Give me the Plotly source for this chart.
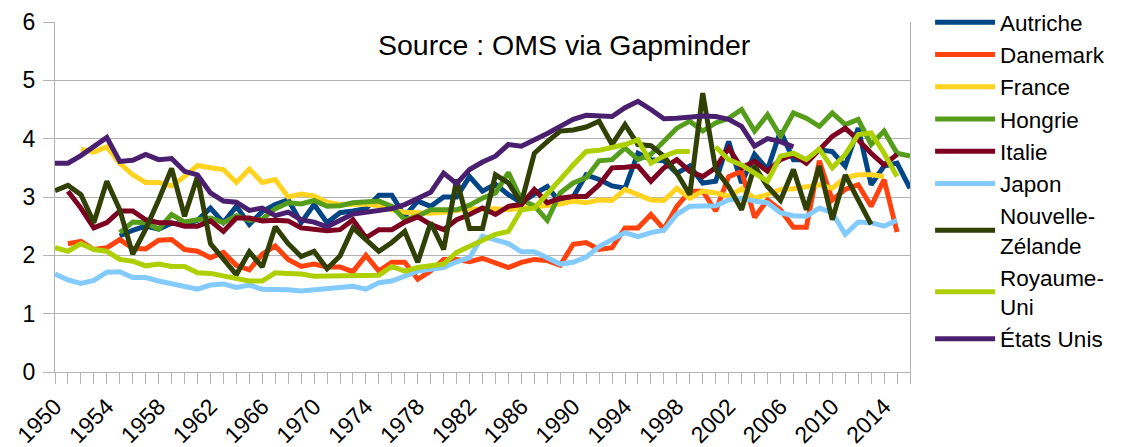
import plotly.graph_objects as go

years = list(range(1950, 2017))

autriche = [None] * 5 + [
    2.33, 2.43, 2.5, 2.45, 2.55, 2.53, 2.6, 2.81, 2.56, 2.84,
    2.53, 2.75, 2.87, 2.95, 2.56, 2.87, 2.56, 2.73, 2.76, 2.8,
    3.03, 3.03, 2.67, 2.93, 2.84, 3.0, 3.0, 3.35, 3.1, 3.22,
    3.04, 2.9, 3.05, 3.18, 2.9, 3.0, 3.38, 3.3, 3.19, 3.15,
    3.75, 3.64, 3.62, 3.41, 3.53, 3.24, 3.27, 3.95, 3.24, 3.73,
    3.47, 4.13, 3.64, 3.64, 3.81, 3.78, 3.53, 4.18, 3.21, 3.53,
    3.58, 3.15]

danemark = [None] + [
    2.2, 2.24, 2.1, 2.13, 2.27, 2.12, 2.11, 2.26, 2.27,
    2.1, 2.07, 1.96, 2.05, 1.83, 1.75, 2.02, 2.16, 1.93, 1.81,
    1.85, 1.8, 1.8, 1.72, 2.0, 1.73, 1.88, 1.88, 1.59, 1.73,
    1.93, 1.93, 1.89, 1.95, 1.86, 1.79, 1.88, 1.93, 1.91, 1.83,
    2.19, 2.22, 2.1, 2.13, 2.47, 2.47, 2.7, 2.45, 2.84, 3.1,
    3.1, 2.76, 3.35, 3.44, 2.65, 2.95, 2.78, 2.48, 2.48, 3.62,
    2.95, 3.13, 3.21, 2.84, 3.3, 2.4] + [None]

france = [None] * 2 + [
    3.82, 3.77, 3.86, 3.58, 3.38, 3.25, 3.25, 3.19,
    3.35, 3.54, 3.5, 3.47, 3.25, 3.48, 3.25, 3.3, 3.0, 3.05,
    3.02, 2.91, 2.87, 2.87, 2.88, 2.85, 2.78, 2.74, 2.72, 2.72,
    2.74, 2.76, 2.8, 2.79, 2.8, 2.78, 2.8, 2.82, 2.84, 2.88,
    2.93, 2.9, 2.95, 2.94, 3.13, 3.04, 2.95, 2.94, 3.15, 2.98,
    3.1, 3.07, 3.01, 3.14, 2.98, 3.04, 3.13, 3.14, 3.18, 3.21,
    3.15, 3.33, 3.38, 3.38, 3.35] + [None] * 2

hongrie = [None] * 5 + [
    2.39, 2.57, 2.56, 2.45, 2.7, 2.57, 2.61, 2.64, 2.56, 2.68,
    2.6, 2.62, 2.8, 2.9, 2.88, 2.94, 2.84, 2.85, 2.9, 2.91,
    2.93, 2.84, 2.61, 2.67, 2.78, 2.78, 2.78, 2.86, 2.98, 3.07,
    3.42, 2.95, 2.85, 2.6, 3.07, 3.24, 3.33, 3.62, 3.64, 3.84,
    3.64, 3.73, 3.95, 4.18, 4.3, 4.13, 4.27, 4.35, 4.5, 4.13,
    4.41, 4.04, 4.44, 4.35, 4.21, 4.44, 4.24, 4.33, 3.9, 4.13,
    3.75, 3.7]

italie = [None] + [
    3.1, 2.81, 2.47, 2.56, 2.76, 2.76, 2.61, 2.56, 2.56,
    2.5, 2.5, 2.59, 2.41, 2.64, 2.64, 2.59, 2.6, 2.59, 2.47,
    2.45, 2.42, 2.44, 2.61, 2.3, 2.44, 2.44, 2.57, 2.66, 2.53,
    2.44, 2.61, 2.7, 2.81, 2.7, 2.84, 2.87, 3.13, 2.9, 2.98,
    3.01, 3.01, 3.21, 3.5, 3.51, 3.53, 3.27, 3.5, 3.64, 3.44,
    3.35, 3.5, 3.84, 3.5, 3.61, 3.44, 3.64, 3.73, 3.58, 3.81,
    4.04, 4.18, 3.98, 3.75, 3.55, 3.73] + [None]

japon = [
    1.68, 1.58, 1.52, 1.57, 1.71, 1.72, 1.62, 1.62, 1.56, 1.51,
    1.48, 1.42, 1.49, 1.51, 1.45, 1.49, 1.42, 1.42, 1.41, 1.39,
    1.41, 1.42, 1.45, 1.47, 1.42, 1.53, 1.56, 1.65, 1.73, 1.76,
    1.79, 1.89, 1.96, 2.33, 2.27, 2.2, 2.06, 2.06, 1.96, 1.85,
    1.88, 1.97, 2.15, 2.27, 2.39, 2.32, 2.39, 2.43, 2.7, 2.84,
    2.85, 2.85, 2.95, 2.98, 2.93, 2.9, 2.73, 2.68, 2.67, 2.81,
    2.73, 2.36, 2.57, 2.56, 2.5, 2.6] + [None]

nouvelle_zelande = [
    3.11, 3.2, 3.04, 2.56, 3.27, 2.78, 2.02, 2.45, 2.95, 3.49,
    2.67, 3.35, 2.2, 1.95, 1.67, 2.06, 1.8, 2.49, 2.2, 1.98,
    2.07, 1.77, 1.99, 2.47, 2.27, 2.07, 2.22, 2.41, 1.88, 2.56,
    2.1, 3.3, 2.46, 2.46, 3.38, 3.24, 2.9, 3.75, 3.95, 4.13,
    4.15, 4.2, 4.3, 3.9, 4.24, 3.9, 3.88, 3.7, 3.41, 3.04,
    4.78, 3.47, 3.18, 2.78, 3.53, 3.18, 2.94, 3.47, 2.78, 3.53,
    2.61, 3.38, 2.95, 2.53] + [None] * 3

royaume_uni = [
    2.13, 2.07, 2.2, 2.1, 2.07, 1.93, 1.9, 1.82, 1.85, 1.81,
    1.81, 1.7, 1.69, 1.65, 1.59, 1.56, 1.56, 1.7, 1.69, 1.68,
    1.64, 1.64, 1.65, 1.66, 1.66, 1.66, 1.81, 1.73, 1.79, 1.82,
    1.85, 2.05, 2.16, 2.27, 2.36, 2.41, 2.78, 2.81, 3.07, 3.3,
    3.55, 3.78, 3.8, 3.84, 3.9, 3.98, 3.58, 3.7, 3.78, 3.78,
    None, 3.86, 3.64, 3.55, 3.41, 3.27, 3.7, 3.75, 3.64, 3.82,
    3.5, 3.73, 4.07, 4.1, 3.75, 3.35] + [None]

etats_unis = [
    3.58, 3.58, 3.71, 3.87, 4.02, 3.61, 3.63, 3.73, 3.64, 3.66,
    3.44, 3.38, 3.07, 2.93, 2.91, 2.77, 2.81, 2.68, 2.74, 2.61,
    2.57, 2.49, 2.6, 2.71, 2.74, 2.76, 2.8, 2.87, 2.98, 3.08,
    3.41, 3.23, 3.47, 3.6, 3.7, 3.9, 3.87, 3.97, 4.09, 4.21,
    4.33, 4.4, 4.39, 4.38, 4.53, 4.64, 4.5, 4.34, 4.35, 4.38,
    4.39, 4.38, 4.33, 4.21, 3.87, 4.0, 3.95, 3.86] + [None] * 9

names = ["Autriche", "Danemark", "France", "Hongrie", "Italie", "Japon",
         "Nouvelle-<br>Zélande", "Royaume-<br>Uni", "États Unis"]
series = [autriche, danemark, france, hongrie, italie, japon,
          nouvelle_zelande, royaume_uni, etats_unis]
colors = ["#004586", "#ff420e", "#ffd320", "#579d1c", "#7e0021",
          "#83caff", "#314004", "#aecf00", "#4b1f6f"]

tick_years = list(range(1950, 2015, 4))

fig = go.Figure()
for name, values, color in zip(names, series, colors):
    fig.add_trace(go.Scatter(
        x=years,
        y=values,
        name=name,
        mode="lines",
        line={"color": color, "width": 5},
    ))

# the page body has an 8px margin, so the figure is shrunk by that much
fig.update_layout(
    width=1120,
    height=439,
    margin={"l": 47, "r": 218, "t": 14, "b": 75, "autoexpand": False},
    paper_bgcolor="white",
    plot_bgcolor="white",
    font={"family": "Liberation Sans, Arial, sans-serif", "color": "black"},
    legend={
        "x": 1.0235,
        "xanchor": "left",
        "y": 1.06,
        "yanchor": "top",
        "font": {"size": 22.5},
        "tracegroupgap": 0,
        "itemwidth": 60,
        "maxheight": 1,
    },
    annotations=[{
        "text": "Source : OMS via Gapminder",
        "xref": "paper", "yref": "paper",
        "x": 0.596, "y": 0.934,
        "xanchor": "center", "yanchor": "middle",
        "showarrow": False,
        "font": {"size": 28.5},
    }],
    xaxis={
        "range": [1950, 2016],
        "tickvals": tick_years,
        "ticktext": [str(y) for y in tick_years],
        "tickangle": -45,
        "tickfont": {"size": 23},
        "ticks": "outside",
        "ticklen": 11,
        "tickcolor": "#b3b3b3",
        "minor": {"dtick": 1, "ticks": "outside", "ticklen": 11, "tickcolor": "#b3b3b3"},
        "showgrid": False,
        "showline": True,
        "linecolor": "#b3b3b3",
        "zeroline": False,
    },
    yaxis={
        "range": [0, 6],
        "dtick": 1,
        "tickfont": {"size": 23},
        "ticks": "outside",
        "ticklen": 11,
        "ticklabelstandoff": 3,
        "tickcolor": "#b3b3b3",
        "gridcolor": "#b3b3b3",
        "showline": True,
        "mirror": True,
        "linecolor": "#b3b3b3",
        "zeroline": False,
    },
)

fig.write_html("out.html")
